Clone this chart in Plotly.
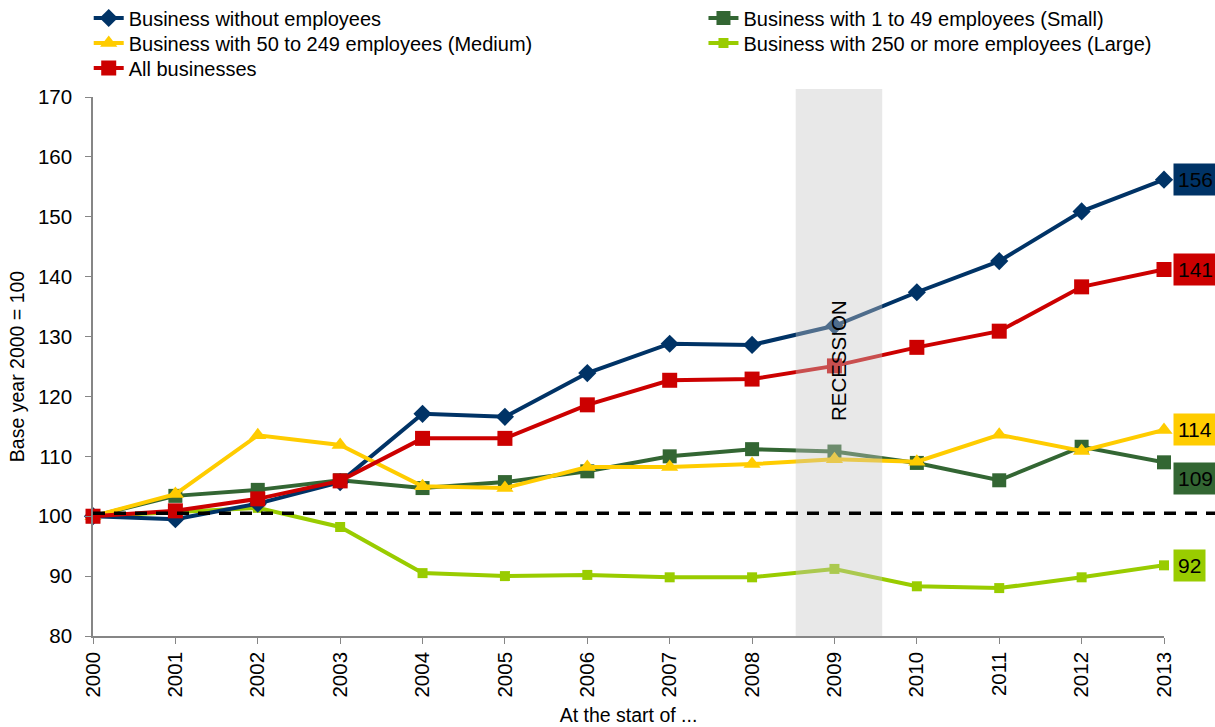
import plotly.graph_objects as go

years = list(range(2000, 2014))

no_employees = [100, 99.5, 102.1, 105.7, 117.1, 116.6, 123.9, 128.8, 128.6, 131.8, 137.4, 142.6, 150.9, 156.2]
small = [100, 103.4, 104.4, 106.0, 104.7, 105.7, 107.5, 110.0, 111.2, 110.8, 108.9, 106.0, 111.6, 109.0]
medium = [100, 103.7, 113.5, 111.9, 105.0, 104.7, 108.2, 108.2, 108.7, 109.5, 109.1, 113.6, 110.9, 114.4]
large = [100, 100.7, 101.4, 98.2, 90.5, 90.0, 90.2, 89.8, 89.8, 91.2, 88.3, 88.0, 89.8, 91.8]
all_business = [100, 100.9, 102.9, 105.9, 113.0, 113.0, 118.6, 122.7, 122.9, 125.1, 128.2, 130.9, 138.3, 141.2]

names = {
    "none": "Business without employees",
    "small": "Business with 1 to 49 employees (Small)",
    "medium": "Business with 50 to 249 employees (Medium)",
    "large": "Business with 250 or more employees (Large)",
    "all": "All businesses",
}

baseline = 100.5
recession_start, recession_end = 2008.53, 2009.58
recession_label = "RECESSION"

FONT = "Arial, Liberation Sans, sans-serif"
NAVY, DGREEN, YELLOW, LGREEN, RED = "#003366", "#336633", "#FFCC00", "#99CC00", "#CC0000"

fig = go.Figure()

series = [
    # (key, values, color, symbol, size, legend id, label yshift)
    ("large", large, LGREEN, "square", 10, "legend4", 0),
    ("small", small, DGREEN, "square", 14, "legend2", -16),
    ("none", no_employees, NAVY, "diamond", 14, "legend", 0),
    ("medium", medium, YELLOW, "triangle-up", 15, "legend3", 0),
    ("all", all_business, RED, "square", 15, "legend5", 0),
]

for key, vals, col, sym, sz, lg, ys in series:
    fig.add_trace(go.Scatter(
        x=years, y=vals, name=names[key], mode="lines+markers",
        line=dict(color=col, width=4),
        marker=dict(color=col, symbol=sym, size=sz),
        legend=lg, cliponaxis=False, showlegend=True,
    ))
    fig.add_annotation(
        x=years[-1], y=vals[-1], xref="x", yref="y",
        text=f"{round(vals[-1])}", showarrow=False,
        xanchor="left", xshift=9, yshift=ys,
        bgcolor=col, borderpad=4,
        font=dict(family=FONT, size=21, color="black"),
    )

fig.add_shape(type="rect", xref="x", yref="paper",
              x0=recession_start, x1=recession_end, y0=0, y1=1.015,
              fillcolor="rgba(198,198,198,0.4)", line=dict(width=0), layer="above")
fig.add_shape(type="line", xref="paper", yref="y",
              x0=0, x1=1.048, y0=baseline, y1=baseline,
              line=dict(color="black", width=3.5, dash="12px,9px"), layer="above")

fig.add_annotation(x=2009.05, y=126, xref="x", yref="y", text=recession_label,
                   textangle=-90, showarrow=False,
                   font=dict(family=FONT, size=20.5, color="black"))

axis_common = dict(showline=True, linecolor="#868686", linewidth=1.5,
                   ticks="outside", ticklen=6, tickcolor="#868686",
                   showgrid=False, zeroline=False,
                   tickfont=dict(family=FONT, size=20.5, color="black"))

fig.update_xaxes(range=[2000, 2013], dtick=1, tickangle=-90,
                 title=dict(text="At the start of ...", standoff=12,
                            font=dict(family=FONT, size=19.5, color="black")),
                 **axis_common)
fig.update_yaxes(range=[80, 170], dtick=10, ticklabelstandoff=9,
                 title=dict(text="Base year 2000 = 100", standoff=8,
                            font=dict(family=FONT, size=19.5, color="black")),
                 **axis_common)

legend_font = dict(family=FONT, size=20, color="black")
plot_top, plot_h = 97, 539


def legend_at(x, ypx):
    return dict(x=x, y=1 + (plot_top - ypx) / plot_h, xanchor="left", yanchor="middle",
                orientation="v", font=legend_font, bgcolor="rgba(0,0,0,0)", visible=True)


fig.update_layout(
    width=1215, height=727,
    showlegend=True,
    margin=dict(l=93, r=51, t=97, b=91, autoexpand=False),
    plot_bgcolor="white", paper_bgcolor="white",
    font=dict(family=FONT, color="black"),
    legend=legend_at(-0.004, 18),
    legend3=legend_at(-0.004, 43),
    legend5=legend_at(-0.004, 68),
    legend2=legend_at(0.57, 18),
    legend4=legend_at(0.57, 43),
)

fig.write_html("out.html", config={"displayModeBar": False},
               post_script="document.body.style.margin='0';document.body.style.overflow='hidden';")
